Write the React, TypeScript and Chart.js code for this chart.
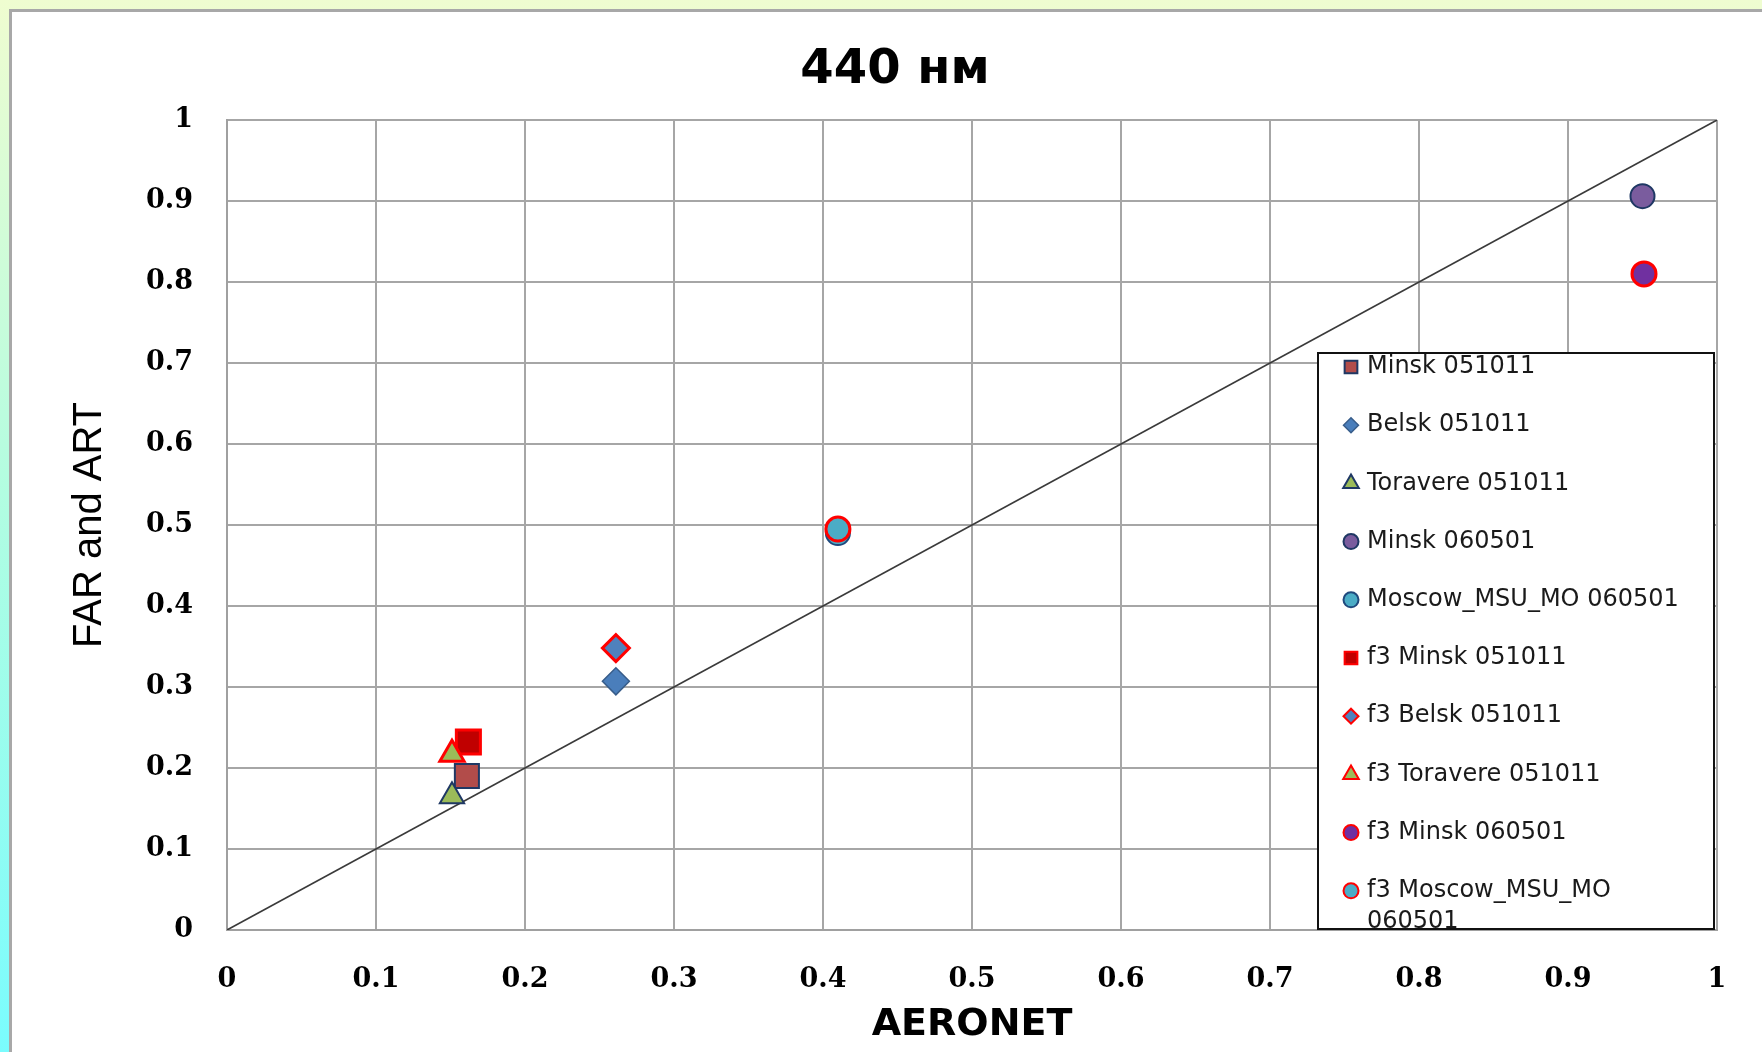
import React, { useEffect, useRef } from 'react';
import { Chart, registerables } from 'chart.js';

Chart.register(...registerables);

const chartTitle = '440 нм';
const xAxisTitle = 'AERONET';
const yAxisTitle = 'FAR and ART';

const xTickLabels = ['0', '0.1', '0.2', '0.3', '0.4', '0.5', '0.6', '0.7', '0.8', '0.9', '1'];
const yTickLabels = ['0', '0.1', '0.2', '0.3', '0.4', '0.5', '0.6', '0.7', '0.8', '0.9', '1'];

const seriesNames = [
  'Minsk 051011',
  'Belsk 051011',
  'Toravere 051011',
  'Minsk 060501',
  'Moscow_MSU_MO 060501',
  'f3 Minsk 051011',
  'f3 Belsk 051011',
  'f3 Toravere 051011',
  'f3 Minsk 060501',
  'f3 Moscow_MSU_MO 060501',
];

// AERONET (x) and FAR/ART (y) optical depth, one point per series
const aeronetValues = [0.161, 0.261, 0.151, 0.95, 0.41, 0.162, 0.261, 0.151, 0.951, 0.41];
const farArtValues = [0.19, 0.307, 0.165, 0.906, 0.49, 0.232, 0.348, 0.217, 0.81, 0.495];

// 1:1 reference line
const oneToOneX = [0, 1];
const oneToOneY = [0, 1];

const pointStyles = ['rect', 'rectRot', 'triangle', 'circle', 'circle', 'rect', 'rectRot', 'triangle', 'circle', 'circle'];
const fillColors = ['#b24c4a', '#4a7ebb', '#9bbb59', '#7a5c9e', '#4bacc6', '#c00000', '#4f81bd', '#9bbb59', '#7030a0', '#4bacc6'];
const borderColors = ['#1f3864', '#385d8a', '#1f3864', '#1f3864', '#1f497d', '#ff0000', '#ff0000', '#ff0000', '#ff0000', '#ff0000'];
const borderWidths = [2, 1.5, 2, 2, 2, 3, 3, 3, 3, 3];
const pointRadii = [17, 13.5, 14, 12, 12, 17, 13.5, 14, 12, 12];
const legendRadii = [9, 7.5, 9, 7.5, 7.5, 9, 7.5, 9, 7.5, 7.5];

function drawMarker(ctx: CanvasRenderingContext2D, style: string, x: number, y: number, r: number) {
  ctx.beginPath();
  if (style === 'rect') {
    const s = r * Math.SQRT1_2;
    ctx.rect(x - s, y - s, 2 * s, 2 * s);
  } else if (style === 'rectRot') {
    ctx.moveTo(x - r, y);
    ctx.lineTo(x, y - r);
    ctx.lineTo(x + r, y);
    ctx.lineTo(x, y + r);
    ctx.closePath();
  } else if (style === 'triangle') {
    ctx.moveTo(x, y - r);
    ctx.lineTo(x + r * 0.866, y + r * 0.5);
    ctx.lineTo(x - r * 0.866, y + r * 0.5);
    ctx.closePath();
  } else {
    ctx.arc(x, y, r, 0, Math.PI * 2);
  }
  ctx.fill();
  ctx.stroke();
}

const boxLegendPlugin = {
  id: 'boxLegend',
  afterDraw(chart: any, _args: any, opts: any) {
    const ctx: CanvasRenderingContext2D = chart.ctx;
    const { left, top, right, bottom, markerX, textX, firstRow, rowStep, lineGap, font, maxTextWidth } = opts;
    ctx.save();
    ctx.fillStyle = '#ffffff';
    ctx.fillRect(left, top, right - left, bottom - top);
    ctx.lineWidth = 2;
    ctx.strokeStyle = '#111111';
    ctx.strokeRect(left, top, right - left, bottom - top);
    ctx.font = font;
    ctx.textBaseline = 'middle';
    ctx.textAlign = 'left';
    seriesNames.forEach((name, i) => {
      const ds = chart.data.datasets[i];
      const y = firstRow + i * rowStep;
      ctx.fillStyle = ds.backgroundColor;
      ctx.strokeStyle = ds.borderColor;
      ctx.lineWidth = Math.min(ds.borderWidth, 2);
      drawMarker(ctx, ds.pointStyle, markerX, y, legendRadii[i]);
      // simple word wrap
      const words = name.split(' ');
      const lines: string[] = [];
      let cur = '';
      words.forEach((w) => {
        const test = cur ? cur + ' ' + w : w;
        if (cur && ctx.measureText(test).width > maxTextWidth) {
          lines.push(cur);
          cur = w;
        } else {
          cur = test;
        }
      });
      if (cur) lines.push(cur);
      ctx.fillStyle = '#1a1a1a';
      lines.forEach((ln, k) => ctx.fillText(ln, textX, y + k * lineGap));
    });
    ctx.restore();
  },
};

export default function App() {
  const canvasRef = useRef<HTMLCanvasElement | null>(null);

  useEffect(() => {
    if (!canvasRef.current) return;
    const scatterSets = seriesNames.map((name, i) => ({
      label: name,
      data: [{ x: aeronetValues[i], y: farArtValues[i] }],
      pointStyle: pointStyles[i],
      backgroundColor: fillColors[i],
      borderColor: borderColors[i],
      borderWidth: borderWidths[i],
      pointRadius: pointRadii[i],
      pointBorderWidth: borderWidths[i],
      order: 20 - i,
    }));
    const lineSet = {
      label: '1:1',
      data: oneToOneX.map((x, i) => ({ x, y: oneToOneY[i] })),
      showLine: true,
      borderColor: '#3a3a3a',
      borderWidth: 1.6,
      pointRadius: 0,
      backgroundColor: '#3a3a3a',
      order: 100,
    };

    const tickFont = { family: '"DejaVu Serif", serif', size: 27, weight: 'bold' as const };

    const chart = new Chart(canvasRef.current, {
      type: 'scatter',
      data: { datasets: [...scatterSets, lineSet] as any },
      plugins: [boxLegendPlugin as any],
      options: {
        animation: false,
        responsive: false,
        maintainAspectRatio: false,
        layout: { padding: { left: 73, right: 45, top: 32, bottom: 0 } },
        plugins: {
          legend: { display: false },
          tooltip: { enabled: false },
          title: {
            display: true,
            text: chartTitle,
            color: '#000000',
            font: { family: '"DejaVu Sans", sans-serif', size: 48, weight: 'bold' },
            padding: { top: 10, bottom: 20.4 },
          },
          boxLegend: {
            left: 1318,
            top: 353,
            right: 1714,
            bottom: 929,
            markerX: 1351,
            textX: 1367,
            firstRow: 367,
            rowStep: 58.2,
            lineGap: 31,
            maxTextWidth: 334,
            font: '24px "DejaVu Sans", sans-serif',
          },
        } as any,
        scales: {
          x: {
            type: 'linear',
            min: 0,
            max: 1,
            afterFit: (scale: any) => {
              scale.height = 122;
            },
            ticks: {
              stepSize: 0.1,
              color: '#000000',
              font: tickFont,
              padding: 34,
              maxRotation: 0,
              autoSkip: false,
              callback: (v: any) => xTickLabels[Math.round(Number(v) * 10)],
            },
            grid: { color: '#a6a6a6', lineWidth: 2, drawTicks: false },
            border: { color: '#a0a0a0', width: 2 },
            title: {
              display: true,
              text: xAxisTitle,
              color: '#000000',
              font: { family: '"DejaVu Sans", sans-serif', size: 38, weight: 'bold' },
              padding: { top: 0, bottom: 4 },
            },
          },
          y: {
            type: 'linear',
            min: 0,
            max: 1,
            afterFit: (scale: any) => {
              scale.width = 154;
            },
            ticks: {
              stepSize: 0.1,
              color: '#000000',
              font: tickFont,
              padding: 34,
              autoSkip: false,
              callback: (v: any) => yTickLabels[Math.round(Number(v) * 10)],
            },
            grid: { color: '#a6a6a6', lineWidth: 2, drawTicks: false },
            border: { color: '#a0a0a0', width: 2 },
            title: {
              display: true,
              text: yAxisTitle,
              color: '#000000',
              font: { family: '"Liberation Sans", Arial, sans-serif', size: 40, weight: 'normal' },
              padding: { top: -7, bottom: 0 },
            },
          },
        },
      },
    });
    return () => chart.destroy();
  }, []);

  return (
    <div
      style={{
        position: 'absolute',
        left: 0,
        top: 0,
        width: 1762,
        height: 1052,
        overflow: 'hidden',
        background: 'linear-gradient(to bottom, #effdd0 0%, #b4fde0 45%, #7afcfe 100%)',
      }}
    >
      <div
        style={{
          position: 'absolute',
          left: 9,
          top: 9,
          width: 1800,
          height: 1100,
          background: '#ffffff',
          border: '3px solid #a8a8a8',
          boxSizing: 'border-box',
        }}
      />
      <canvas
        ref={canvasRef}
        width={1762}
        height={1052}
        style={{ position: 'absolute', left: 0, top: 0, width: 1762, height: 1052, display: 'block' }}
      />
    </div>
  );
}
